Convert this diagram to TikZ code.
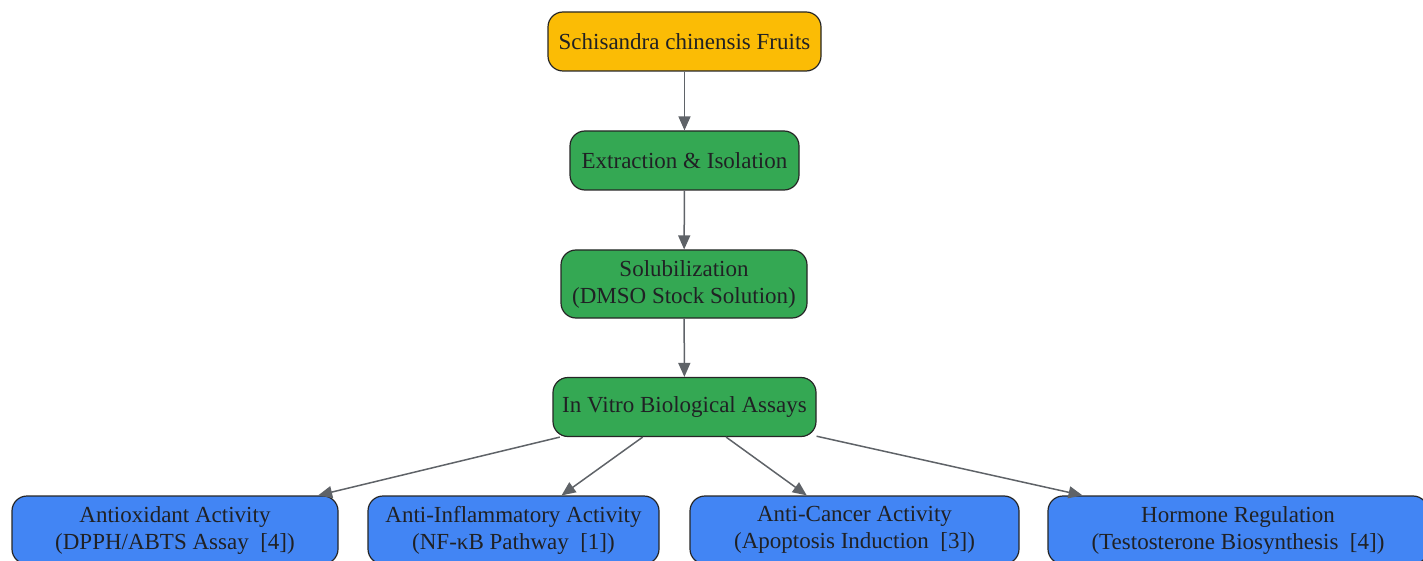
\documentclass[tikz,border=0pt]{standalone}
\usepackage{fontspec}
\setmainfont{Liberation Serif}
\usetikzlibrary{arrows.meta}

\definecolor{fruitfill}{HTML}{FBBC05}
\definecolor{prepfill}{HTML}{34A853}
\definecolor{assayfill}{HTML}{4285F4}
\definecolor{textgray}{HTML}{202124}
\definecolor{edgegray}{HTML}{5F6368}

\begin{document}
\begin{tikzpicture}[x=1pt, y=-1pt]
    \tikzstyle{stage box}=[draw=black!85, line width=1.2pt, rounded corners=15pt,
        align=center, text=textgray, inner sep=0pt, minimum height=59pt,
        font=\fontsize{23}{27}\selectfont]
    \tikzstyle{flow}=[draw=edgegray, line width=1.5pt, -{Triangle[length=14pt, width=12pt]}]

    \useasboundingbox (0,0) rectangle (1423,561);

    \node[stage box, fill=fruitfill, minimum width=273pt](n_fruit) at (684.5, 41.5) {Schisandra chinensis Fruits};
    \node[stage box, fill=prepfill, minimum width=229pt](n_extract) at (684.5, 160.5) {Extraction \& Isolation};
    \node[stage box, fill=prepfill, minimum width=246pt, minimum height=68pt](n_solub) at (684, 284) {Solubilization\\(DMSO Stock Solution)};
    \node[stage box, fill=prepfill, minimum width=263pt](n_assay) at (684.5, 407) {In Vitro Biological Assays};

    \node[stage box, fill=assayfill, minimum width=326pt, minimum height=68pt](a_0) at (175, 530) {Antioxidant Activity\\(DPPH/ABTS Assay~~[4])};
    \node[stage box, fill=assayfill, minimum width=291pt, minimum height=68pt](a_1) at (513.5, 530) {Anti-Inflammatory Activity\\(NF-κB Pathway~~[1])};
    \node[stage box, fill=assayfill, minimum width=329pt, minimum height=68pt](a_2) at (854.5, 530) {Anti-Cancer Activity\\(Apoptosis Induction~~[3])};
    \node[stage box, fill=assayfill, minimum width=380pt, minimum height=68pt](a_3) at (1238, 530) {Hormone Regulation\\(Testosterone Biosynthesis~~[4])};

    \draw[flow] (n_fruit) -- (n_extract);
    \draw[flow] (n_extract) -- (n_solub);
    \draw[flow] (n_solub) -- (n_assay);
    \draw[flow] (n_assay) -- (a_0);
    \draw[flow] (n_assay) -- (a_1);
    \draw[flow] (n_assay) -- (a_2);
    \draw[flow] (n_assay) -- (a_3);

\end{tikzpicture}
\end{document}
